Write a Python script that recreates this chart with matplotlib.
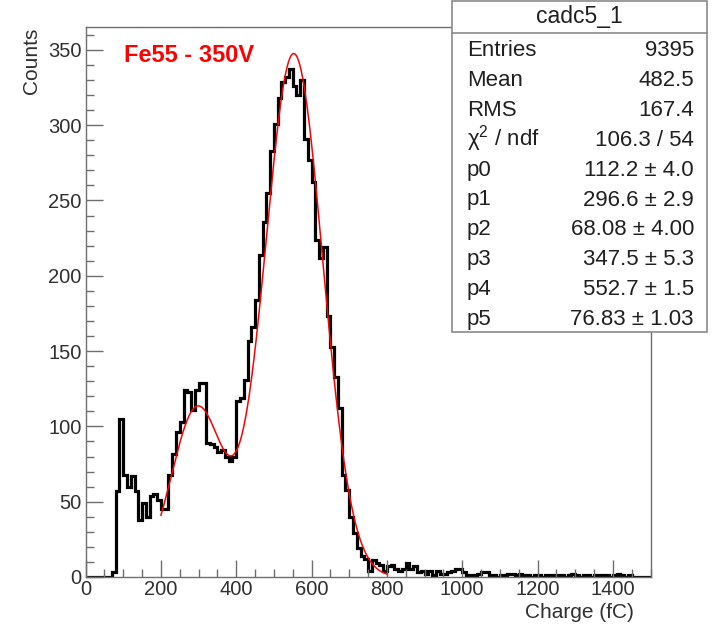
import numpy as np
import matplotlib
matplotlib.use("Agg")
import matplotlib.pyplot as plt
from matplotlib.patches import Rectangle
from matplotlib.lines import Line2D
from matplotlib.ticker import MultipleLocator

plt.rcParams['font.family'] = ['Liberation Sans', 'DejaVu Sans']
plt.rcParams['mathtext.fontset'] = 'custom'
plt.rcParams['mathtext.rm'] = 'Liberation Sans'
plt.rcParams['mathtext.it'] = 'Liberation Sans'

# Histogram of collected charge, 10 fC bins from 0 to 1500 fC
bin_lo, bin_hi, bin_width = 0, 1500, 10
counts = [
    0, 0, 0, 0, 0, 0, 0, 3, 57, 105, 68, 60, 67, 57, 38, 49, 40, 54, 55, 51,
    45, 45, 68, 82, 96, 103, 124, 123, 111, 124,
    129, 129, 89, 88, 86, 83, 84, 80, 77, 80,
    117, 119, 131, 157, 166, 184, 214, 236, 255, 283,
    301, 318, 329, 332, 337, 326, 320, 330, 291, 277,
    262, 224, 212, 219, 173, 153, 133, 112, 68, 58,
    40, 29, 19, 14, 12, 4, 11, 9, 8, 4,
    7, 8, 5, 4, 5, 9, 5, 7, 3, 4,
    2, 4, 1, 4, 2, 2, 3, 4, 5, 5,
    3, 1, 1, 1, 2, 3, 3, 1, 1, 0,
    1, 1, 2, 2, 1, 2, 1, 1, 0, 1,
    1, 0, 1, 1, 0, 1, 1, 0, 1, 2,
    1, 0, 1, 1, 0, 1, 1, 0, 1, 0,
    1, 2, 1, 0, 1, 0, 0, 0, 0, 0,
]

# Double-gaussian fit result and fit range
fit_params = [112.2, 296.6, 68.08, 347.5, 552.7, 76.83]
fit_range = (200, 800)

# Statistics box content
stats_title = "cadc5_1"
stats_labels = ["Entries", "Mean", "RMS", "χ$^{2}$ / ndf",
                "p0", "p1", "p2", "p3", "p4", "p5"]
stats_values = ["9395", "482.5", "167.4", "106.3 / 54",
                "112.2 ± 4.0", "296.6 ± 2.9", "68.08 ± 4.00",
                "347.5 ± 5.3", "552.7 ± 1.5", "76.83 ± 1.03"]

W, H = 714, 627
fig = plt.figure(figsize=(W / 100, H / 100), dpi=100)


def fx(px):
    return px / W


def fy(py):
    return 1 - py / H


ax_left, ax_right, ax_top, ax_bottom = 85.6, 650.5, 27, 577
ax = fig.add_axes([fx(ax_left), fy(ax_bottom),
                   fx(ax_right) - fx(ax_left), fy(ax_top) - fy(ax_bottom)])

edges = np.arange(bin_lo, bin_hi + bin_width, bin_width)
ax.stairs(counts, edges, color='black', linewidth=2.3, baseline=0)


def double_gauss(x, p):
    return (p[0] * np.exp(-0.5 * ((x - p[1]) / p[2]) ** 2)
            + p[3] * np.exp(-0.5 * ((x - p[4]) / p[5]) ** 2))


xf = np.linspace(fit_range[0], fit_range[1], 600)
ax.plot(xf, double_gauss(xf, fit_params), color='#ff0000', linewidth=1.1)

ax.set_xlim(bin_lo, bin_hi)
ax.set_ylim(0, 365.2)

frame_col = '#6e6e6e'
text_col = '#303030'
for side in ['left', 'bottom', 'top', 'right']:
    ax.spines[side].set_color(frame_col)
    ax.spines[side].set_linewidth(1.0)

ax.xaxis.set_major_locator(MultipleLocator(200))
ax.xaxis.set_minor_locator(MultipleLocator(50))
ax.yaxis.set_major_locator(MultipleLocator(50))
ax.yaxis.set_minor_locator(MultipleLocator(10))
ax.tick_params(axis='both', which='both', direction='in', color=frame_col,
               labelcolor=text_col, labelsize=14.5, top=False, right=False)
ax.tick_params(axis='both', which='major', length=12.5, width=1.0)
ax.tick_params(axis='both', which='minor', length=6, width=1.0)
ax.tick_params(axis='y', which='major', pad=3)
ax.tick_params(axis='x', which='major', pad=2)

fig.text(fx(634), fy(612), "Charge (fC)", ha='right', va='center',
         fontsize=15, color=text_col)
fig.text(fx(32), fy(28), "Counts", ha='center', va='top', rotation=90,
         fontsize=15, color=text_col)

fig.text(fx(124), fy(55), "Fe55 - 350V", ha='left', va='center',
         fontsize=17, fontweight='bold', color='#ff0000')

# Statistics box
bx0, bx1, by0, by1, sep = 452, 707, 0.5, 332, 32.5
fig.add_artist(Rectangle((fx(bx0), fy(by1)), fx(bx1) - fx(bx0), fy(by0) - fy(by1),
                         transform=fig.transFigure, facecolor='white',
                         edgecolor='#8a8a8a', linewidth=1.2, zorder=5))
fig.add_artist(Line2D([fx(bx0), fx(bx1)], [fy(sep), fy(sep)],
                      transform=fig.transFigure, color='#8a8a8a',
                      linewidth=1.2, zorder=6))
fig.text(fx((bx0 + bx1) / 2), fy(17), stats_title, ha='center', va='center',
         fontsize=16.5, color='#202020', zorder=7)
for i, (lab, val) in enumerate(zip(stats_labels, stats_values)):
    base = 56.5 + 29.8 * i
    fig.text(fx(467), fy(base), lab, ha='left', va='baseline',
             fontsize=16, color='#202020', zorder=7)
    fig.text(fx(694), fy(base), val, ha='right', va='baseline',
             fontsize=16, color='#202020', zorder=7)

fig.savefig("out.png", dpi=100, facecolor='white')
